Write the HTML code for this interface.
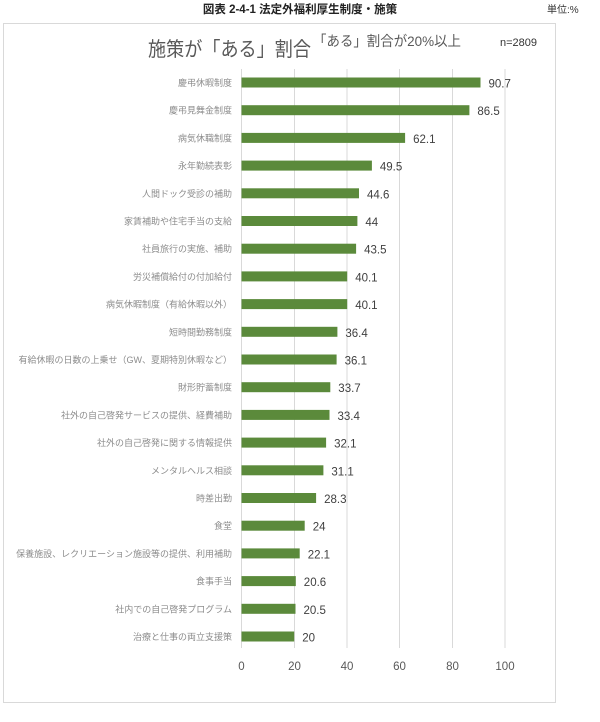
<!DOCTYPE html>
<html><head><meta charset="utf-8"><style>
body{margin:0;background:#fff;width:600px;height:717px;overflow:hidden;}
</style></head><body>
<svg width="600" height="717" xmlns="http://www.w3.org/2000/svg" style="font-family:'Liberation Sans','Noto Sans CJK JP',sans-serif">
<text x="300" y="13" text-anchor="middle" font-size="11.5" font-weight="bold" fill="#222">図表 2-4-1 法定外福利厚生制度・施策</text>
<text x="547" y="13" font-size="10" fill="#333">単位:%</text>
<rect x="3.5" y="23.5" width="552" height="679" fill="#fff" stroke="#d9d9d9"/>
<text x="148" y="56" font-size="20" fill="#595959" textLength="163" lengthAdjust="spacingAndGlyphs">施策が「ある」割合</text>
<text x="313" y="46" font-size="14" fill="#595959" textLength="148" lengthAdjust="spacingAndGlyphs">「ある」割合が20%以上</text>
<text x="500" y="46" font-size="11" fill="#333">n=2809</text>
<g stroke="#d9d9d9" stroke-width="1">
<line x1="241.5" y1="69" x2="241.5" y2="648"/>
<line x1="294.5" y1="69" x2="294.5" y2="648"/>
<line x1="347" y1="69" x2="347" y2="648"/>
<line x1="399.5" y1="69" x2="399.5" y2="648"/>
<line x1="452.5" y1="69" x2="452.5" y2="648"/>
<line x1="505" y1="69" x2="505" y2="648"/>
</g>
<g font-size="11.5" fill="#595959" text-anchor="middle">
<text x="241.5" y="670">0</text><text x="294.5" y="670">20</text><text x="347" y="670">40</text><text x="399.5" y="670">60</text><text x="452.5" y="670">80</text><text x="505" y="670">100</text>
</g>
<g fill="#5b8a3b">
<rect x="241.5" y="77.5" width="239.0" height="10"/>
<rect x="241.5" y="105.2" width="227.9" height="10"/>
<rect x="241.5" y="132.9" width="163.6" height="10"/>
<rect x="241.5" y="160.6" width="130.4" height="10"/>
<rect x="241.5" y="188.3" width="117.5" height="10"/>
<rect x="241.5" y="216.0" width="115.9" height="10"/>
<rect x="241.5" y="243.7" width="114.6" height="10"/>
<rect x="241.5" y="271.4" width="105.7" height="10"/>
<rect x="241.5" y="299.1" width="105.7" height="10"/>
<rect x="241.5" y="326.8" width="95.9" height="10"/>
<rect x="241.5" y="354.5" width="95.1" height="10"/>
<rect x="241.5" y="382.2" width="88.8" height="10"/>
<rect x="241.5" y="409.9" width="88.0" height="10"/>
<rect x="241.5" y="437.6" width="84.6" height="10"/>
<rect x="241.5" y="465.3" width="81.9" height="10"/>
<rect x="241.5" y="493.0" width="74.6" height="10"/>
<rect x="241.5" y="520.7" width="63.2" height="10"/>
<rect x="241.5" y="548.4" width="58.2" height="10"/>
<rect x="241.5" y="576.1" width="54.3" height="10"/>
<rect x="241.5" y="603.8" width="54.0" height="10"/>
<rect x="241.5" y="631.5" width="52.7" height="10"/>
</g>
<g font-size="9" fill="#8c8c8c" text-anchor="end">
<text x="232" y="86">慶弔休暇制度</text>
<text x="232" y="113.7">慶弔見舞金制度</text>
<text x="232" y="141.4">病気休職制度</text>
<text x="232" y="169.1">永年勤続表彰</text>
<text x="232" y="196.8">人間ドック受診の補助</text>
<text x="232" y="224.5">家賃補助や住宅手当の支給</text>
<text x="232" y="252.2">社員旅行の実施、補助</text>
<text x="232" y="279.9">労災補償給付の付加給付</text>
<text x="232" y="307.6">病気休暇制度（有給休暇以外）</text>
<text x="232" y="335.3">短時間勤務制度</text>
<text x="232" y="363">有給休暇の日数の上乗せ（GW、夏期特別休暇など）</text>
<text x="232" y="390.7">財形貯蓄制度</text>
<text x="232" y="418.4">社外の自己啓発サービスの提供、経費補助</text>
<text x="232" y="446.1">社外の自己啓発に関する情報提供</text>
<text x="232" y="473.8">メンタルヘルス相談</text>
<text x="232" y="501.5">時差出勤</text>
<text x="232" y="529.2">食堂</text>
<text x="232" y="556.9">保養施設、レクリエーション施設等の提供、利用補助</text>
<text x="232" y="584.6">食事手当</text>
<text x="232" y="612.3">社内での自己啓発プログラム</text>
<text x="232" y="640">治療と仕事の両立支援策</text>
</g>
<g font-size="11.5" fill="#404040">
<text x="488.5" y="87.5">90.7</text>
<text x="477.4" y="115.2">86.5</text>
<text x="413.1" y="142.9">62.1</text>
<text x="379.9" y="170.6">49.5</text>
<text x="367.0" y="198.3">44.6</text>
<text x="365.4" y="226">44</text>
<text x="364.1" y="253.7">43.5</text>
<text x="355.2" y="281.4">40.1</text>
<text x="355.2" y="309.1">40.1</text>
<text x="345.4" y="336.8">36.4</text>
<text x="344.6" y="364.5">36.1</text>
<text x="338.3" y="392.2">33.7</text>
<text x="337.5" y="419.9">33.4</text>
<text x="334.1" y="447.6">32.1</text>
<text x="331.4" y="475.3">31.1</text>
<text x="324.1" y="503">28.3</text>
<text x="312.7" y="530.7">24</text>
<text x="307.7" y="558.4">22.1</text>
<text x="303.8" y="586.1">20.6</text>
<text x="303.5" y="613.8">20.5</text>
<text x="302.2" y="641.5">20</text>
</g>
</svg>
</body></html>
